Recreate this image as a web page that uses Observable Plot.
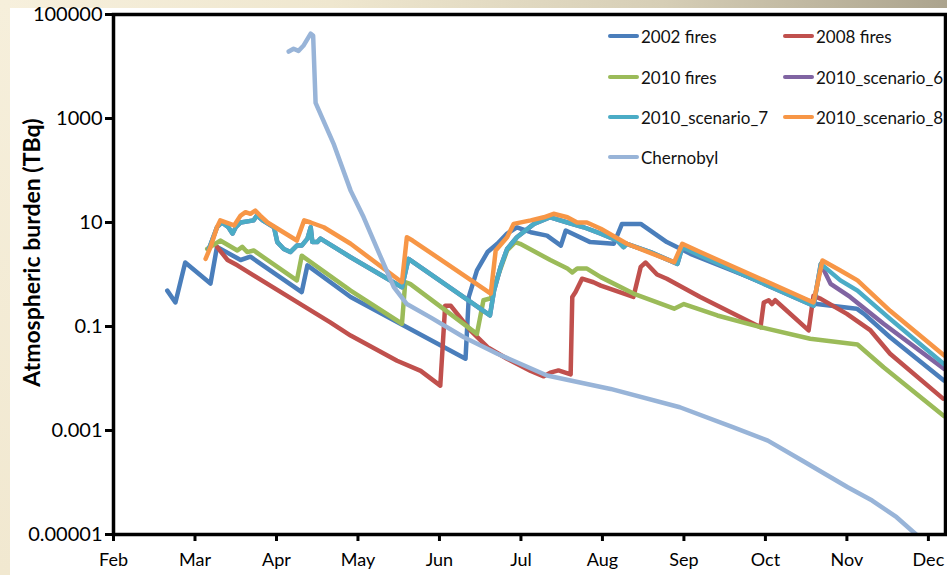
<!DOCTYPE html>
<html>
<head>
<meta charset="utf-8">
<script src="https://cdn.jsdelivr.net/npm/d3@7"></script>
<script src="https://cdn.jsdelivr.net/npm/@observablehq/plot@0.6"></script>
<style>
  html, body { margin: 0; padding: 0; background: #fff; }
  #wrap { position: relative; width: 947px; height: 575px; overflow: hidden; background: #fff; font-family: Lato, sans-serif; }
  #topstrip { position: absolute; left: 0; top: 0; width: 947px; height: 8px;
    background: linear-gradient(to right, #f7f0dd 0%, #efe7cf 35%, #d6ceb6 70%, #aba38d 100%); }
  #leftstrip { position: absolute; left: 0; top: 0; width: 10px; height: 575px;
    background: linear-gradient(to bottom, #f6efdb 0%, #f1e8d0 100%); }
  #chart { position: absolute; left: 0; top: 0; }
  .leg { position: absolute; display: flex; align-items: center; height: 20px; font-size: 17px; color: #111; white-space: nowrap; }
  .sw { width: 31px; height: 4.5px; border-radius: 3px; margin-right: 2px; }
</style>
</head>
<body>
<div id="wrap">
  <div id="topstrip"></div>
  <div id="leftstrip"></div>
  <div id="chart"></div>
  <div id="legend"></div>
</div>
<script>
// ---- tick labels ----
const months = ["Feb","Mar","Apr","May","Jun","Jul","Aug","Sep","Oct","Nov","Dec"];
const monthPos = [2,3,4,5,6,7,8,9,10,11,12];
const yTicks = [1e5, 1e3, 10, 0.1, 0.001, 1e-5];
const yTickLabels = ["100000","1000","10","0.1","0.001","0.00001"];
const yLabel = "Atmospheric burden (TBq)";

// ---- series names & colours ----
const seriesNames = ["2002 fires","2008 fires","2010 fires","2010_scenario_6","2010_scenario_7","2010_scenario_8","Chernobyl"];
const seriesColors = ["#4a7ebb","#c0504d","#9bbb59","#8064a2","#4bacc6","#f79646","#98b4d8"];

// ---- data: [month (2 = Feb ... 12 = Dec), burden TBq] ----
const fires2002 = [[2.66,0.49],[2.76,0.29],[2.88,1.7],[3.19,0.67],[3.27,3.4],[3.56,1.9],[3.68,2.2],[4.31,0.46],[4.38,1.5],[4.91,0.37],[6.32,0.024],[6.36,0.37],[6.46,1.2],[6.59,2.7],[6.71,3.9],[6.83,6.1],[6.95,8.1],[7.12,6.5],[7.32,5.6],[7.49,3.6],[7.55,7.0],[7.85,4.2],[8.14,3.9],[8.24,9.4],[8.47,9.4],[8.79,4.2],[9.08,2.5],[10.63,0.27],[11.12,0.22],[11.21,0.175],[11.53,0.062],[12.19,0.0092]];
const fires2008 = [[3.27,3.4],[3.40,1.9],[3.52,1.5],[4.66,0.12],[4.91,0.067],[5.48,0.022],[5.77,0.014],[6.01,0.0073],[6.07,0.25],[6.14,0.25],[6.38,0.084],[6.59,0.040],[6.83,0.024],[7.12,0.014],[7.28,0.011],[7.36,0.013],[7.46,0.0143],[7.61,0.012],[7.63,0.37],[7.67,0.46],[7.75,0.83],[7.89,0.71],[7.98,0.61],[8.38,0.37],[8.47,1.4],[8.53,1.7],[8.67,1.0],[8.79,0.83],[9.2,0.37],[9.94,0.097],[9.98,0.29],[10.04,0.32],[10.08,0.27],[10.12,0.32],[10.53,0.084],[10.59,0.39],[10.68,0.34],[11.0,0.175],[11.29,0.084],[11.53,0.030],[12.18,0.0041]];
const fires2010 = [[3.15,3.1],[3.31,4.5],[3.52,2.9],[3.58,3.4],[3.64,2.7],[3.72,2.9],[4.25,0.77],[4.31,2.3],[4.91,0.49],[5.54,0.113],[5.58,0.71],[5.64,0.66],[6.46,0.072],[6.54,0.32],[6.63,0.35],[6.72,0.96],[6.83,2.9],[6.93,4.2],[6.99,3.9],[7.36,1.9],[7.57,1.3],[7.63,1.1],[7.69,1.3],[7.81,1.3],[7.98,0.89],[8.38,0.43],[8.88,0.22],[9.0,0.27],[9.41,0.163],[9.94,0.097],[10.55,0.058],[11.13,0.045],[11.45,0.0165],[12.19,0.0019]];
const scenario6 = [[3.17,3.1],[3.27,8.1],[3.33,10],[3.41,8.1],[3.46,6.1],[3.50,8.1],[3.56,10],[3.72,11],[3.76,13.6],[3.83,11],[3.97,8.1],[4.01,4.2],[4.09,3.1],[4.17,2.7],[4.25,3.6],[4.31,3.6],[4.38,4.9],[4.42,8.1],[4.44,4.2],[4.50,4.2],[4.54,4.9],[4.91,2.15],[5.54,0.57],[5.62,2.0],[6.62,0.163],[6.67,0.49],[6.75,1.4],[6.83,3.1],[6.95,5.2],[7.16,9.4],[7.36,12.6],[7.57,10],[7.77,8.1],[7.98,6.1],[8.18,4.5],[8.26,3.35],[8.30,3.9],[8.59,2.7],[8.92,1.6],[8.98,3.35],[9.2,2.3],[10.59,0.25],[10.68,1.6],[10.8,0.66],[11.04,0.37],[11.45,0.113],[12.19,0.0154]];
const scenario7 = [[3.17,3.1],[3.27,8.1],[3.33,10],[3.41,8.1],[3.46,6.1],[3.50,8.1],[3.56,10],[3.72,11],[3.76,13.6],[3.83,11],[3.97,8.1],[4.01,4.2],[4.09,3.1],[4.17,2.7],[4.25,3.6],[4.31,3.6],[4.38,4.9],[4.42,8.1],[4.44,4.2],[4.50,4.2],[4.54,4.9],[4.91,2.15],[5.54,0.57],[5.62,2.0],[6.62,0.163],[6.67,0.49],[6.75,1.4],[6.83,3.1],[6.95,5.2],[7.16,9.4],[7.36,12.6],[7.57,10],[7.77,8.1],[7.98,6.1],[8.18,4.5],[8.26,3.35],[8.30,3.9],[8.59,2.7],[8.92,1.6],[8.98,3.35],[9.2,2.3],[10.59,0.25],[10.68,1.6],[10.92,0.77],[11.13,0.49],[11.53,0.14],[12.19,0.019]];
const scenario8 = [[3.13,2.0],[3.19,3.35],[3.27,8.1],[3.31,11],[3.48,8.8],[3.56,13.6],[3.62,15.8],[3.68,14.7],[3.74,17],[3.80,13.6],[3.89,10],[4.25,4.5],[4.34,11],[4.42,10],[4.58,8.1],[4.91,3.9],[5.54,0.71],[5.60,5.2],[5.67,4.5],[6.63,0.43],[6.69,2.9],[6.83,5.2],[6.91,9.4],[7.12,11],[7.28,12.6],[7.40,14.7],[7.57,12.6],[7.69,10],[7.81,10],[7.98,7.6],[8.30,3.9],[8.88,1.72],[8.98,3.9],[9.2,2.7],[10.59,0.29],[10.70,1.86],[10.92,1.19],[11.13,0.77],[11.53,0.2],[12.19,0.028]];
const chernobyl = [[4.15,19400],[4.21,22000],[4.27,20000],[4.33,25000],[4.42,43000],[4.45,39000],[4.48,2000],[4.70,330],[4.91,41],[5.07,12.6],[5.28,2.15],[5.44,0.57],[5.60,0.27],[5.89,0.15],[6.30,0.062],[6.71,0.030],[7.32,0.0114],[8.10,0.0063],[8.95,0.0028],[9.60,0.00116],[10.03,0.00064],[10.45,0.000265],[11.01,0.000081],[11.31,0.000045],[11.61,0.0000215],[11.85,0.00001]];

const seriesData = [fires2002, fires2008, fires2010, scenario6, scenario7, scenario8, chernobyl];

const lineMarks = seriesData.map((arr, i) =>
  Plot.line(arr.map(([x, y]) => ({x, y, series: seriesNames[i]})), {
    x: "x", y: "y", stroke: seriesColors[i], strokeWidth: 4.5,
    strokeLinejoin: "round", strokeLinecap: "round", clip: true
  })
);

const chart = Plot.plot({
  width: 947, height: 575,
  marginLeft: 113, marginRight: 2, marginTop: 14, marginBottom: 41,
  style: {fontFamily: "Lato, sans-serif", color: "#000", background: "transparent", overflow: "visible"},
  x: {domain: [2, 12.21]},
  y: {type: "log", domain: [1e-5, 1e5]},
  marks: [
    ...lineMarks,
    Plot.frame({stroke: "#000", strokeWidth: 3.5}),
    Plot.axisX({ticks: monthPos, tickFormat: d => months[monthPos.indexOf(d)], tickSize: 7, tickPadding: 12, fontSize: 18, strokeWidth: 3, label: null}),
    Plot.axisY({ticks: yTicks, tickFormat: d => yTickLabels[yTicks.indexOf(d)], tickSize: 8, tickPadding: 3, fontSize: 20, strokeWidth: 3, label: null}),
    Plot.text([yLabel], {text: d => d, frameAnchor: "left", textAnchor: "middle", rotate: -90, dx: -81, dy: -22, fontSize: 23, fontWeight: "bold"})
  ]
});
document.getElementById("chart").appendChild(chart);

// ---- legend (HTML, inside plot area) ----
const legCols = [608, 783];
const legRows = [36, 77, 117, 157];
const legend = document.getElementById("legend");
seriesNames.forEach((name, i) => {
  const col = i % 2, row = Math.floor(i / 2);
  const el = document.createElement("div");
  el.className = "leg";
  el.style.left = legCols[col] + "px";
  el.style.top = (legRows[row] - 10) + "px";
  const sw = document.createElement("div");
  sw.className = "sw";
  sw.style.background = seriesColors[i];
  const tx = document.createElement("span");
  tx.textContent = name;
  el.appendChild(sw); el.appendChild(tx);
  legend.appendChild(el);
});
</script>
</body>
</html>
